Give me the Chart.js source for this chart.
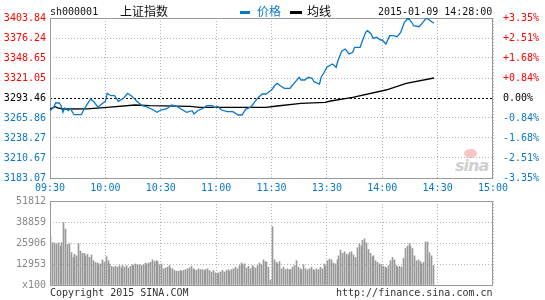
<!DOCTYPE html>
<html lang="zh">
<head>
<meta charset="UTF-8">
<title>上证指数 分时图</title>
<script src="https://cdn.jsdelivr.net/npm/chart.js"></script>
<style>
  body { margin: 0; background: #fff; }
  #wrap { position: relative; width: 545px; height: 300px; overflow: hidden;
          font-family: "DejaVu Sans Mono", monospace; font-size: 10px; }
  canvas { position: absolute; left: 0; }
  #main { top: 0; }
  #vol { top: 190px; }
  .t { position: absolute; white-space: nowrap; line-height: 12px; }
  .cjk { font-family: "Noto Sans CJK SC", sans-serif; font-size: 12px; }
  .dash { position: absolute; height: 3px; }
  #logo { position: absolute; left: 455px; top: 148px; width: 38px; height: 26px; }
  #logo .eye { position: absolute; left: 9px; top: 1px; width: 13px; height: 9px;
               border-radius: 50%; background: #f8c4c4; }
  #logo .txt { position: absolute; left: 0; top: 8px; font: italic bold 16px "DejaVu Sans", sans-serif;
               color: #cfcfcf; letter-spacing: -1px; }
</style>
</head>
<body>
<div id="wrap">
  <div id="logo"><div class="eye"></div><div class="txt">sina</div></div>
  <canvas id="main" width="545" height="200"></canvas>
  <canvas id="vol" width="545" height="110"></canvas>

  <div class="t" style="left:50px;top:6px;color:#111">sh000001</div>
  <div class="t cjk" style="left:120px;top:4px;color:#111;line-height:14px">上证指数</div>
  <div class="dash" style="left:240px;top:11px;width:10px;background:#0a78c8"></div>
  <div class="t cjk" style="left:257px;top:4px;color:#0a78c8;line-height:14px">价格</div>
  <div class="dash" style="left:290px;top:11px;width:12px;background:#000"></div>
  <div class="t cjk" style="left:307px;top:4px;color:#000;line-height:14px">均线</div>
  <div class="t" style="left:378px;top:6px;color:#111">2015-01-09 14:28:00</div>

  <div class="t" style="left:50px;top:287px;color:#333">Copyright 2015 SINA.COM</div>
  <div class="t" style="left:336px;top:287px;color:#333">http://finance.sina.com.cn</div>
</div>

<script>
// 昨收 / 坐标刻度
const prevClose = 3293.46;
const priceTicks = [3183.07, 3210.67, 3238.27, 3265.86, 3293.46, 3321.05, 3348.65, 3376.24, 3403.84];
const pctLabels = ['-3.35%', '-2.51%', '-1.68%', '-0.84%', '0.00%', '+0.84%', '+1.68%', '+2.51%', '+3.35%'];
const timeLabels = ['09:30', '10:00', '10:30', '11:00', '11:30', '13:30', '14:00', '14:30', '15:00'];
const volTicks = [0, 12953, 25906, 38859, 51812];
const volLabels = ['x100', '12953', '25906', '38859', '51812'];

// 价格 (交易分钟, 点位)
const priceMin = [0, 2, 3, 5, 6, 7, 8, 10, 11, 13, 17, 18, 20, 22, 24, 26, 28, 30, 31, 33,
  35, 37, 40, 42, 44, 46, 47, 50, 52, 55, 58, 60, 63, 66, 69, 71, 74, 77, 78, 80,
  83, 85, 88, 89, 91, 93, 96, 99, 102, 104, 106, 108, 109, 111, 113, 115, 117, 118, 120, 122,
  123, 125, 127, 130, 131, 133, 135, 136, 138, 140, 142, 143, 146, 147, 148, 150, 153, 155, 156, 158,
  160, 162, 164, 165, 168, 169, 171, 172, 174, 175, 177, 179, 180, 182, 184, 186, 188, 190, 192, 194,
  196, 197, 200, 202, 204, 206, 208];
const priceVal = [3275.93, 3280.62, 3286.56, 3286.56, 3282.83, 3273.72, 3279.66, 3275.93, 3279.24, 3270.41,
  3270.41, 3275.93, 3284.21, 3292.08, 3287.52, 3280.62, 3285.18, 3288.90, 3299.94, 3296.63,
  3296.63, 3288.90, 3293.46, 3299.94, 3296.63, 3292.08, 3288.90, 3282.83, 3281.45, 3278.28,
  3273.72, 3276.90, 3278.28, 3283.80, 3281.45, 3278.28, 3273.72, 3275.93, 3271.38, 3275.93,
  3279.24, 3282.83, 3282.83, 3280.62, 3281.45, 3276.90, 3274.55, 3274.55, 3270.00, 3270.00,
  3277.86, 3280.07, 3281.45, 3288.35, 3294.42, 3298.98, 3298.98, 3300.77, 3304.49, 3311.39,
  3313.74, 3310.01, 3306.84, 3306.84, 3310.01, 3315.95, 3322.02, 3318.29, 3318.29, 3322.02,
  3320.64, 3315.95, 3312.77, 3322.85, 3326.57, 3335.82, 3340.37, 3335.82, 3344.92, 3357.89,
  3361.07, 3354.17, 3356.51, 3363.41, 3363.41, 3370.31, 3384.11, 3386.32, 3381.76, 3375.83,
  3377.21, 3373.48, 3373.48, 3367.97, 3379.42, 3379.42, 3378.04, 3384.11, 3397.91, 3403.84,
  3397.91, 3393.22, 3391.84, 3397.91, 3403.84, 3400.11, 3396.53];

// 均线
const avgMin = [0, 3, 4, 7, 20, 31, 46, 54, 76, 81, 117, 123, 136, 149, 152, 164, 182, 193, 208];
const avgVal = [3278.28, 3281.45, 3279.66, 3278.28, 3278.50, 3280.62, 3283.80, 3282.83, 3282.00, 3280.62,
  3280.62, 3282.42, 3286.14, 3287.52, 3289.32, 3294.42, 3304.49, 3313.74, 3321.05];

// 成交量 (每分钟, x100)
const volume = [29800, 26000, 26000, 25000, 26000, 24000, 26000, 38500, 34500, 25000,
  25500, 20000, 17000, 19000, 18000, 25500, 21000, 19500, 19500, 18000,
  19000, 17000, 18500, 15000, 14000, 13500, 13000, 13000, 15500, 14000,
  17500, 15000, 13000, 11500, 11000, 11500, 11000, 12000, 10500, 12000,
  11000, 12000, 10500, 11500, 12500, 12000, 13000, 12500, 12500, 12000,
  12500, 13500, 13000, 13500, 14000, 15500, 14500, 15000, 14500, 12500,
  13000, 10000, 10500, 11000, 12000, 10500, 10000, 9000, 8500, 8500,
  9000, 8500, 9000, 9500, 10000, 10500, 11500, 10000, 9500, 9000,
  10000, 9500, 9500, 9000, 9500, 10000, 9000, 8000, 9000, 7500,
  7000, 7500, 8000, 9000, 8000, 9000, 9500, 8500, 9500, 10000,
  11000, 10000, 12000, 13500, 12500, 13000, 10500, 11500, 10000, 12000,
  11000, 10500, 12000, 13500, 12500, 15500, 14500, 14000, 11000, 3000,
  36000, 15500, 14000, 13000, 14500, 10000, 11000, 9500, 10000, 9500,
  9500, 11000, 12000, 15000, 11000, 10000, 9500, 12500, 10000, 9500,
  10000, 11000, 9500, 9000, 10000, 9500, 11000, 10000, 13000, 12000,
  15000, 16000, 15500, 13500, 13000, 15500, 18000, 21500, 19500, 20500,
  19000, 18500, 20000, 20500, 18500, 17000, 23000, 25500, 24000, 27500,
  28500, 26000, 22000, 19500, 17500, 18000, 15000, 14000, 13000, 12500,
  11500, 11000, 10500, 12000, 15000, 17000, 15500, 12000, 11000, 11500,
  11000, 16500, 22500, 24000, 25500, 24000, 22500, 18000, 15000, 15500,
  14500, 13000, 14000, 26500, 26500, 20000, 18000, 12000];

const BLUE = '#0a78c8';
const RED = '#ff0000';
const GRID = '#b4b4b4';
const FONT = { family: 'DejaVu Sans Mono', size: 10 };

// 外框 + 昨收虚线
const framePlugin = {
  id: 'frame',
  beforeDatasetsDraw(chart, args, opts) {
    const a = chart.chartArea;
    const c = chart.ctx;
    c.save();
    if (opts.prevClose !== undefined) {
      const y = Math.round(chart.scales.y.getPixelForValue(opts.prevClose)) + 0.5;
      c.strokeStyle = '#000';
      c.lineWidth = 1;
      c.setLineDash([2, 2]);
      c.beginPath();
      c.moveTo(a.left, y);
      c.lineTo(a.right, y);
      c.stroke();
    }
    c.setLineDash([]);
    c.strokeStyle = '#999';
    c.lineWidth = 1;
    c.strokeRect(Math.round(a.left) + 0.5, Math.round(a.top) + 0.5,
      Math.round(a.right - a.left) - 1, Math.round(a.bottom - a.top));
    c.restore();
  }
};

// 量柱对齐整像素, 避免 1px 柱子发虚
const crispBars = {
  id: 'crispBars',
  afterDatasetsUpdate(chart) {
    chart.getDatasetMeta(0).data.forEach(el => { el.x = Math.floor(el.x) + 0.5; });
  }
};

function timeAxis(showLabels, h) {
  return {
    type: 'linear', min: 0, max: 240, offset: false,
    afterBuildTicks: s => { s.ticks = timeLabels.map((t, i) => ({ value: i * 30 })); },
    ticks: { display: showLabels, callback: (v, i) => timeLabels[i], color: BLUE, font: FONT,
             padding: 4, maxRotation: 0, autoSkip: false },
    grid: { color: GRID, drawTicks: false, offset: false },
    border: { display: false, dash: [1, 2] },
    afterFit: s => { s.height = h; }
  };
}

const mainChart = new Chart(document.getElementById('main'), {
  type: 'line',
  data: {
    datasets: [
      { label: '价格', data: priceMin.map((m, i) => ({ x: m, y: priceVal[i] })),
        borderColor: BLUE, borderWidth: 1.3, pointRadius: 0, tension: 0, yAxisID: 'y' },
      { label: '均线', data: avgMin.map((m, i) => ({ x: m, y: avgVal[i] })),
        borderColor: '#000', borderWidth: 1.3, pointRadius: 0, tension: 0, yAxisID: 'y' }
    ]
  },
  options: {
    responsive: false,
    animation: false,
    layout: { padding: { top: 18, left: 0, right: 0, bottom: 0 } },
    plugins: { legend: { display: false }, tooltip: { enabled: false }, frame: { prevClose: prevClose } },
    scales: {
      x: timeAxis(true, 22),
      y: {
        position: 'left', min: priceTicks[0], max: priceTicks[priceTicks.length - 1],
        afterBuildTicks: s => { s.ticks = priceTicks.map(v => ({ value: v })); },
        ticks: {
          callback: (v, i) => priceTicks[i].toFixed(2), font: FONT, padding: 4,
          color: c => c.tick.value > prevClose ? RED : (c.tick.value < prevClose ? BLUE : '#000')
        },
        grid: { color: c => c.tick && c.tick.value === prevClose ? 'rgba(0,0,0,0)' : GRID, drawTicks: false },
        border: { display: false, dash: [1, 2] },
        afterFit: s => { s.width = 50; }
      },
      y2: {
        position: 'right', min: priceTicks[0], max: priceTicks[priceTicks.length - 1],
        afterBuildTicks: s => { s.ticks = priceTicks.map(v => ({ value: v })); },
        ticks: {
          callback: (v, i) => pctLabels[i], font: FONT, padding: 2,
          color: c => c.tick.value > prevClose ? RED : (c.tick.value < prevClose ? BLUE : '#000')
        },
        grid: { display: false },
        border: { display: false },
        afterFit: s => { s.width = 52; }
      }
    }
  },
  plugins: [framePlugin]
});

const volChart = new Chart(document.getElementById('vol'), {
  type: 'bar',
  data: {
    datasets: [{
      label: '成交量',
      data: volume.map((v, i) => ({ x: i + 0.5, y: v })),
      backgroundColor: '#999999',
      barThickness: 1,
      borderWidth: 0
    }]
  },
  options: {
    responsive: false,
    animation: false,
    layout: { padding: { top: 11, left: 0, right: 52, bottom: 0 } },
    plugins: { legend: { display: false }, tooltip: { enabled: false } },
    scales: {
      x: timeAxis(false, 15),
      y: {
        position: 'left', min: 0, max: volTicks[volTicks.length - 1],
        afterBuildTicks: s => { s.ticks = volTicks.map(v => ({ value: v })); },
        ticks: { callback: (v, i) => volLabels[i], font: FONT, padding: 4, color: '#888' },
        grid: { color: GRID, drawTicks: false },
        border: { display: false, dash: [1, 2] },
        afterFit: s => { s.width = 50; }
      }
    }
  },
  plugins: [framePlugin, crispBars]
});
</script>
</body>
</html>
